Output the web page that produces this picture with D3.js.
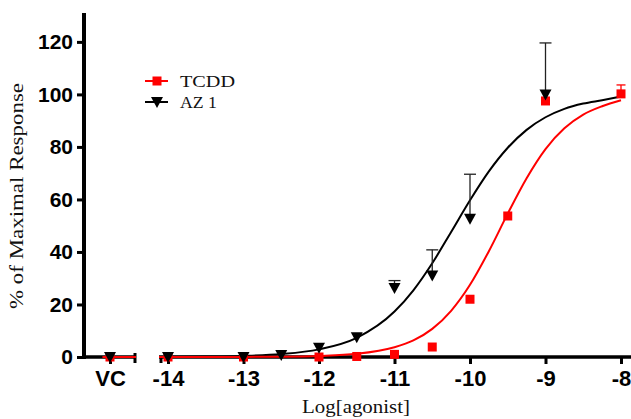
<!DOCTYPE html>
<html><head><meta charset="utf-8">
<script src="https://cdn.jsdelivr.net/npm/d3@7"></script>
<style>body{margin:0;background:#fff}svg{display:block}</style>
</head><body>
<svg id="c" width="631" height="419"></svg>
<script>
// ---- data ----
const xTickValues = [-14, -13, -12, -11, -10, -9, -8];
const yTickValues = [0, 20, 40, 60, 80, 100, 120];
const vcLabel = "VC";
const seriesNames = ["TCDD", "AZ 1"];
// VC plotted at pseudo log -15 in the first (broken) axis segment
const tcddX   = [-15, -14, -13, -12, -11.5, -11, -10.5, -10, -9.5, -9, -8];
const tcddY   = [0, 0, 0, 0, 0.2, 1.0, 3.8, 22, 53.7, 97.5, 100.2];
const tcddErr = [0, 0, 0, 0, 0, 0, 0, 0, 0, 0, 3.4];
const az1X    = [-15, -14, -13, -12.5, -12, -11.5, -11, -10.5, -10, -9];
const az1Y    = [0, 0, 0, 0.8, 3.5, 7.5, 26.3, 31, 52.6, 100];
const az1Err  = [0, 0, 0, 0, 0, 0, 2.8, 9.8, 17, 19.6];
// fitted curves
const fitX    = [-15.1, -14.5, -14, -13.5, -13, -12.5, -12, -11.5, -11, -10.75, -10.5, -10.25, -10, -9.75, -9.5, -9.25, -9, -8.75, -8.5, -8.25, -8];
const tcddFit = [0, 0, 0, 0.02, 0.04, 0.12, 0.4, 1.2, 3.7, 6.3, 10.7, 17.6, 27.5, 40.3, 54.6, 68.1, 79.2, 87.1, 92.3, 95.5, 97.8];
const az1Fit  = [0.01, 0.02, 0.06, 0.16, 0.41, 1.1, 2.9, 7.3, 17.3, 25.4, 35.7, 47.6, 59.7, 70.7, 79.7, 86.5, 91.3, 94.5, 96.5, 97.8, 99.2];

// ---- layout ----
const svg = d3.select("#c");
const yTop = 13, yBase = 357, axisX = 84;
const seg1 = [84, 136], seg2 = [159, 631];
const y = d3.scaleLinear().domain([0, 131]).range([yBase, yTop]);
const x2 = d3.scaleLinear().domain([-14, -8]).range([168, 621]);
const x1 = d3.scaleLinear().domain([-15, -14]).range([110, 110 + (x2(-13) - x2(-14))]);
const xOf = v => v <= -14.5 ? x1(v) : x2(v);
const RED = "#ff0000", BLK = "#000";

const defs = svg.append("defs");
defs.append("clipPath").attr("id", "cp1").append("rect")
  .attr("x", seg1[0]).attr("y", 0).attr("width", seg1[1] - seg1[0]).attr("height", 419);
defs.append("clipPath").attr("id", "cp2").append("rect")
  .attr("x", seg2[0]).attr("y", 0).attr("width", seg2[1] - seg2[0]).attr("height", 419);

// y axis
const yAxis = d3.axisLeft(y).tickValues(yTickValues).tickSize(7).tickSizeOuter(0).tickPadding(4).tickFormat(d => String(d));
const gy = svg.append("g").attr("transform", `translate(${axisX},0)`).call(yAxis);
gy.select(".domain").remove();
gy.selectAll(".tick line").attr("stroke", BLK).attr("stroke-width", 3);
gy.selectAll(".tick text").attr("font-family", "Liberation Sans, Arial, sans-serif")
  .attr("font-weight", "bold").attr("font-size", 21).attr("fill", BLK);
svg.append("line").attr("x1", axisX).attr("x2", axisX).attr("y1", yTop).attr("y2", yBase + 2)
  .attr("stroke", BLK).attr("stroke-width", 4);

// x axis segment 2
const xAxis2 = d3.axisBottom(x2).tickValues(xTickValues).tickSize(7).tickSizeOuter(0).tickPadding(6).tickFormat(d => String(d));
const gx2 = svg.append("g").attr("transform", `translate(0,${yBase})`).call(xAxis2);
gx2.select(".domain").remove();
// x axis segment 1 (VC)
const xAxis1 = d3.axisBottom(x1).tickValues([-15]).tickSize(7).tickSizeOuter(0).tickPadding(6).tickFormat(() => vcLabel);
const gx1 = svg.append("g").attr("transform", `translate(0,${yBase})`).call(xAxis1);
gx1.select(".domain").remove();
[gx1, gx2].forEach(g => {
  g.selectAll(".tick line").attr("stroke", BLK).attr("stroke-width", 3);
  g.selectAll(".tick text").attr("font-family", "Liberation Sans, Arial, sans-serif")
    .attr("font-weight", "bold").attr("font-size", 22).attr("fill", BLK);
});
// axis lines with break ends
[seg1, seg2].forEach(s => {
  svg.append("line").attr("x1", s[0]).attr("x2", s[1]).attr("y1", yBase).attr("y2", yBase)
    .attr("stroke", BLK).attr("stroke-width", 3.5);
});
svg.append("line").attr("x1", seg1[1] - 1).attr("x2", seg1[1] - 1).attr("y1", yBase - 4).attr("y2", yBase + 6)
  .attr("stroke", BLK).attr("stroke-width", 3);
svg.append("line").attr("x1", seg2[0] + 2).attr("x2", seg2[0] + 2).attr("y1", yBase).attr("y2", yBase + 6)
  .attr("stroke", BLK).attr("stroke-width", 3);

// fitted curves
function drawFit(vals, color) {
  const pts = fitX.map((v, i) => [v, vals[i]]);
  [[x1, "cp1"], [x2, "cp2"]].forEach(([sx, cp]) => {
    const line = d3.line().x(d => sx(d[0])).y(d => y(d[1])).curve(d3.curveMonotoneX);
    svg.append("path").attr("d", line(pts)).attr("clip-path", `url(#${cp})`)
      .attr("fill", "none").attr("stroke", color).attr("stroke-width", 2);
  });
}
drawFit(az1Fit, BLK);
drawFit(tcddFit, RED);

// error bars (upper only)
function drawErr(xs, ys, es, color, cap) {
  xs.forEach((v, i) => {
    if (!es[i]) return;
    const cx = xOf(v);
    svg.append("line").attr("x1", cx).attr("x2", cx).attr("y1", y(ys[i])).attr("y2", y(ys[i] + es[i]))
      .attr("stroke", color).attr("stroke-width", 1.3);
    svg.append("line").attr("x1", cx - cap / 2).attr("x2", cx + cap / 2)
      .attr("y1", y(ys[i] + es[i])).attr("y2", y(ys[i] + es[i]))
      .attr("stroke", color).attr("stroke-width", 1.3);
  });
}
drawErr(tcddX, tcddY, tcddErr, RED, 9);
drawErr(az1X, az1Y, az1Err, "#222", 12);

// markers
const sq = 9;
const triPath = (cx, cy) => `M${cx - 6},${cy - 5}L${cx + 6},${cy - 5}L${cx},${cy + 6}Z`;
svg.append("g").selectAll("rect").data(tcddX.map((v, i) => [v, tcddY[i]])).join("rect")
  .attr("x", d => xOf(d[0]) - sq / 2).attr("y", d => y(d[1]) - sq / 2)
  .attr("width", sq).attr("height", sq).attr("fill", RED);
svg.append("g").selectAll("path").data(az1X.map((v, i) => [v, az1Y[i]])).join("path")
  .attr("d", d => triPath(xOf(d[0]), y(d[1]))).attr("fill", BLK);

// legend
const lg = svg.append("g");
const legY = [81, 102];
seriesNames.forEach((name, i) => {
  const col = i === 0 ? RED : BLK;
  lg.append("line").attr("x1", 145).attr("x2", 168).attr("y1", legY[i]).attr("y2", legY[i])
    .attr("stroke", col).attr("stroke-width", 2);
  if (i === 0) lg.append("rect").attr("x", 157 - sq / 2).attr("y", legY[i] - sq / 2).attr("width", sq).attr("height", sq).attr("fill", RED);
  else lg.append("path").attr("d", triPath(157, legY[i])).attr("fill", BLK);
  lg.append("text").attr("x", 180).attr("y", legY[i] + 6).text(name)
    .attr("font-family", "Liberation Serif, Times New Roman, serif").attr("font-size", 16.5)
    .attr("textLength", i === 0 ? 55 : 37).attr("lengthAdjust", "spacingAndGlyphs").attr("fill", "#111");
});

// axis titles
svg.append("text").attr("transform", "translate(23,196) rotate(-90)").attr("text-anchor", "middle")
  .attr("font-family", "Liberation Serif, Times New Roman, serif").attr("font-size", 19)
  .attr("textLength", 226).attr("lengthAdjust", "spacingAndGlyphs").attr("fill", "#111")
  .text("% of Maximal Response");
svg.append("text").attr("x", 356).attr("y", 413).attr("text-anchor", "middle")
  .attr("font-family", "Liberation Serif, Times New Roman, serif").attr("font-size", 18)
  .attr("textLength", 108).attr("lengthAdjust", "spacingAndGlyphs").attr("fill", "#111")
  .text("Log[agonist]");
</script>
</body></html>
